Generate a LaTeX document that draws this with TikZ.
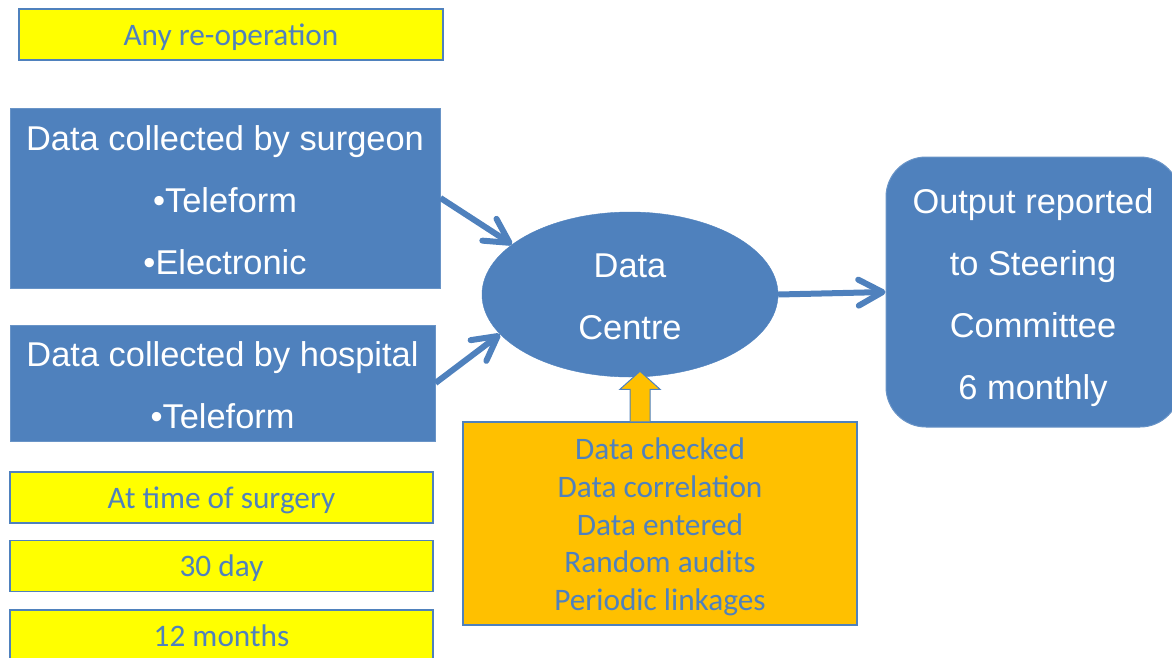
\documentclass[tikz,border=0pt]{standalone}
\usepackage{fontspec}
\setmainfont{Liberation Sans}
\newfontfamily\calfont{Carlito}
\usetikzlibrary{shapes.geometric,arrows.meta}
\definecolor{ppblue}{HTML}{4F81BD}
\definecolor{ppyellow}{HTML}{FFFF00}
\definecolor{pporange}{HTML}{FFC000}

\begin{document}
\begin{tikzpicture}[x=1pt,y=-1pt,
  note/.style={draw=ppblue, line width=1.5pt, fill=ppyellow, text=ppblue,
    font=\calfont\fontsize{31.3}{37.6}\selectfont, minimum width=424pt,
    minimum height=51pt, inner sep=0pt, text height=21pt, text depth=0pt},
  source/.style={draw=ppblue!85!white, line width=1pt, fill=ppblue,
    inner sep=0pt},
  whitetext/.style={text=white, font=\fontsize{34.4}{62}\selectfont,
    align=center, inner sep=0pt},
  flow/.style={draw=ppblue, line width=6pt,
    -{Straight Barb[length=24pt,width=26pt,round]}}
]
\useasboundingbox (0,0) rectangle (1172,657);
\clip (0,0) rectangle (1172,657);

% follow-up schedule
\node[note] (reop) at (231,34.5) {Any re-operation};
\node[note, minimum width=423pt] (t0) at (221.5,497.5) {At time of surgery};
\node[note, minimum width=423pt] (t30) at (221.5,566) {30 day};
\node[note, minimum width=423pt] (t12) at (221.5,635.5) {12 months};

% data sources
\node[source, minimum width=430pt, minimum height=180pt] (surg) at (225,198) {};
\node[whitetext] (surgtxt) at ([yshift=-2pt]surg.center)
  {Data collected by surgeon\\•Teleform\\•Electronic};
\node[source, minimum width=425pt, minimum height=116pt] (hosp) at (222.5,383) {};
\node[whitetext] (hosptxt) at ([yshift=-2pt]hosp.center)
  {Data collected by hospital\\•Teleform};

% data centre
\node[ellipse, fill=ppblue, draw=ppblue, minimum width=296pt,
  minimum height=165pt, inner sep=0pt] (dc) at (630,294.5) {};
\node[whitetext] (dctxt) at ([yshift=-2pt]dc.center) {Data\\Centre};

% reporting
\node[source, rounded corners=40pt, minimum width=294pt, minimum height=270pt]
  (out) at (1033,292) {};
\node[whitetext] (outtxt) at ([yshift=-6pt]out.center)
  {Output reported\\to Steering\\Committee\\6 monthly};

% quality checks
\node[draw=ppblue, line width=1.5pt, fill=pporange, minimum width=394pt,
  minimum height=203pt, inner sep=0pt] (chk) at (660,523.5) {};
\node[text=ppblue, font=\calfont\fontsize{31.3}{37.6}\selectfont, align=center,
  inner sep=0pt] (chktxt) at ([yshift=-3.5pt]chk.center)
  {Data checked\\Data correlation\\Data entered\\Random audits\\Periodic linkages};

% connectors
\draw[flow] (surg.east) -- (dc.157.6);
\draw[flow] (hosp.east) -- (dc.197.6);
\draw[flow] (dc.east) -- (out.west);

% block arrow from the checks up to the data centre
\coordinate (ub) at ([xshift=-20pt]chk.north);
\draw[draw=ppblue, line width=1pt, fill=pporange, line join=miter]
  ([xshift=-10pt]ub) -- ++(0,-32) -- ++(-10,0) -- ++(20,-18) -- ++(20,18)
  -- ++(-10,0) -- ++(0,32);
\end{tikzpicture}
\end{document}
